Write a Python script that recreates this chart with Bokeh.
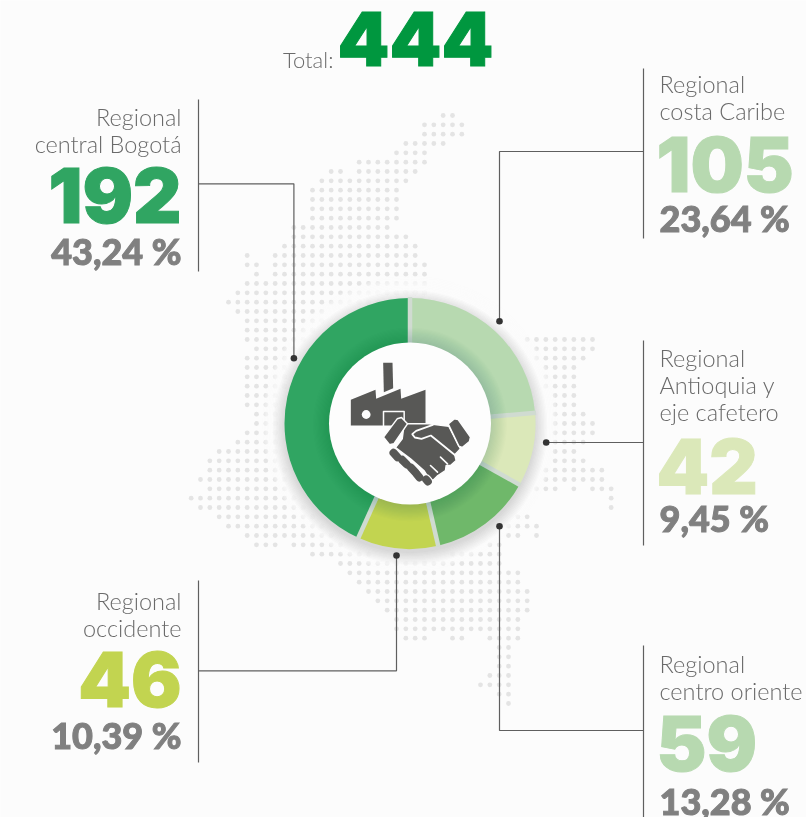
import math
from bokeh.embed import file_html
from bokeh.resources import INLINE
from bokeh.plotting import figure
from bokeh.models import Range1d
from bokeh.core.properties import value

W, H = 806, 817
BG = "#fcfcfc"
LIGHT = "Lato Light"
HEAVY = "Inter Black"
SEMI = "Lato Black"

# ---- data ----
regions = ["Regional costa Caribe", "Regional Antioquia y eje cafetero", "Regional centro oriente",
           "Regional occidente", "Regional central Bogotá"]
counts = [105, 42, 59, 46, 192]
percents = ["23,64 %", "9,45 %", "13,28 %", "10,39 %", "43,24 %"]
slice_colors = ["#b7d9b0", "#dbe8b9", "#6fb86a", "#c2d450", "#30a562"]
number_colors = ["#b7d9b0", "#dbe8b9", "#b7d9b0", "#c2d450", "#30a562"]
total = 444

# dotted silhouette of the country: row -> runs of columns
map_rows = {
    0: [(27, 28)], 1: [(25, 29)], 2: [(25, 29)], 3: [(23, 27)], 4: [(22, 25)], 5: [(18, 25)],
    6: [(15, 16), (18, 24)], 7: [(14, 23)], 8: [(13, 22)], 9: [(13, 22)], 10: [(13, 22)], 11: [(13, 22)],
    12: [(11, 21)], 13: [(11, 23)], 14: [(10, 24)], 15: [(6, 6), (9, 24)], 16: [(6, 7), (9, 25)],
    17: [(7, 7), (9, 25)], 18: [(6, 25)], 19: [(5, 25)], 20: [(4, 25)], 21: [(5, 14)], 22: [(6, 14)],
    23: [(6, 13)], 24: [(6, 12), (36, 43)], 25: [(7, 11), (37, 43)], 26: [(6, 11), (37, 42)],
    27: [(6, 10), (38, 41)], 28: [(6, 10), (38, 41)], 29: [(6, 10), (38, 41)], 30: [(6, 9), (39, 41)],
    31: [(6, 9), (39, 41)], 32: [(7, 9), (39, 42)], 33: [(7, 9), (39, 43)], 34: [(6, 9), (39, 43)],
    35: [(5, 9), (39, 42)], 36: [(3, 9), (39, 41)], 37: [(2, 9), (39, 42)], 38: [(2, 10), (38, 44)],
    39: [(1, 10), (38, 44)], 40: [(2, 10), (37, 39), (41, 41), (43, 45)], 41: [(0, 11), (45, 45)],
    42: [(1, 12), (45, 45)], 43: [(3, 13), (35, 36)], 44: [(4, 14), (34, 37)], 45: [(6, 15), (34, 35), (37, 37)],
    46: [(7, 9), (11, 16), (32, 33)], 47: [(13, 19), (28, 33)], 48: [(16, 33)], 49: [(17, 35)], 50: [(18, 35)],
    51: [(19, 36)], 52: [(20, 36)], 53: [(21, 36)], 54: [(22, 35)], 55: [(22, 35)],
    56: [(23, 25), (28, 29), (32, 35)], 57: [(33, 34)], 58: [(33, 34)], 59: [(33, 34)], 60: [(32, 34)],
    61: [(31, 34)], 62: [(33, 34)], 63: [(34, 34)],
}

def Y(py):
    return H - py

p = figure(width=W, height=H, x_range=Range1d(0, W), y_range=Range1d(0, H),
           output_backend="svg", toolbar_location=None, min_border=0,
           background_fill_color=BG, border_fill_color=BG, outline_line_color=None)
p.axis.visible = False
p.grid.visible = False
p.styles = {"position": "fixed", "left": "0", "top": "0"}

# map dots
dx, dy = [], []
for r, runs in map_rows.items():
    for a, b in runs:
        for c in range(a, b + 1):
            dx.append(190.67 + c * 9.3333)
            dy.append(Y(115 + r * 9.3333))
p.circle(dx, dy, radius=2.4, fill_color="#e4e4e4", line_color=None)

CX, CY = 409.5, 423.0
R_OUT, R_IN = 125.5, 81.0

# white halo hiding the dots near the ring
for i in range(15):
    p.circle([CX], [Y(CY)], radius=R_OUT + 22 - i * 1.5, fill_color=BG, fill_alpha=0.25, line_color=None)
# soft drop shadow
for i in range(12):
    p.circle([CX], [Y(CY + 4)], radius=R_OUT + 12 - i * 1.1, fill_color="#35553a", fill_alpha=0.016, line_color=None)

# ring
p.circle([CX], [Y(CY)], radius=R_OUT, fill_color="#d5dfd6", line_color=None)
start = math.pi / 2
starts, ends = [], []
for v in counts:
    a = v / sum(counts) * 2 * math.pi
    starts.append(start)
    ends.append(start - a)
    start -= a
p.annular_wedge(x=[CX] * 5, y=[Y(CY)] * 5, inner_radius=R_IN - 2, outer_radius=R_OUT,
                start_angle=starts, end_angle=ends, direction="clock",
                fill_color=slice_colors, line_color=None)
p.segment(x0=[CX + (R_IN - 2) * math.cos(a) for a in starts], y0=[Y(CY) + (R_IN - 2) * math.sin(a) for a in starts],
          x1=[CX + (R_OUT + 1) * math.cos(a) for a in starts], y1=[Y(CY) + (R_OUT + 1) * math.sin(a) for a in starts],
          line_color="#d0dbd1", line_width=4.5)
# shadow the white disc casts on the ring
for i in range(14):
    p.circle([CX], [Y(CY + 1)], radius=R_IN + 16 - i * 1.2, fill_color="#24552c", fill_alpha=0.012, line_color=None)
p.circle([CX], [Y(CY)], radius=R_IN, fill_color="#fdfdfd", line_color=None)

# ---- icon (drawn in a 3x local frame) ----
ICON = "#585856"
WHITE = "#fdfdfd"
def ix(v): return 345 + v / 3
def iy(v): return Y(355 + v / 3)
def poly(pts, **kw):
    p.patch([ix(a) for a, b in pts], [iy(b) for a, b in pts], fill_color=kw.get("c", ICON), line_color=kw.get("lc"),
            line_width=kw.get("lw", 1), line_join="round")
def stroke(pts, c=WHITE, w=1.6):
    p.line([ix(a) for a, b in pts], [iy(b) for a, b in pts], line_color=c, line_width=w, line_cap="round")
poly([(113, 22), (141, 22), (143, 98), (115, 110)])
poly([(16, 133), (90, 103), (92, 130), (165, 100), (167, 130), (240, 103), (240, 205), (115, 205), (115, 210), (16, 210)])
p.circle([ix(62)], [iy(177)], radius=4.4, fill_color=WHITE, line_color=None)
poly([(114, 168), (176, 168), (176, 212), (114, 212)], c=ICON, lc=WHITE, lw=1.5)
# hand body
poly([(176, 205), (250, 205), (310, 212), (345, 280), (328, 298), (332, 315), (315, 330), (302, 330), (300, 345),
      (275, 362), (262, 375), (250, 368), (235, 345), (195, 310), (150, 276), (170, 250)], lc=WHITE, lw=1.5)
# cuffs
poly([(114, 245), (155, 190), (168, 186), (186, 205), (145, 265), (132, 268)], lc=WHITE, lw=1.5)
poly([(308, 205), (326, 190), (338, 192), (375, 245), (372, 258), (350, 276), (340, 272)], lc=WHITE, lw=1.5)
# thumb and finger slits
stroke([(262, 208), (212, 226), (200, 236), (208, 246), (228, 250), (256, 240), (330, 300)], w=1.8)
stroke([(285, 305), (306, 325)])
stroke([(255, 330), (276, 350)])
# finger blobs
bx0 = [ix(v) for v in (144, 170, 196, 214, 242)]
by0 = [iy(v) for v in (292, 313, 336, 356, 372)]
bx1 = [ix(v) for v in (156, 184, 210, 222, 247)]
by1 = [iy(v) for v in (305, 327, 351, 366, 378)]
p.segment(x0=bx0, y0=by0, x1=bx1, y1=by1, line_color=WHITE, line_width=10.5, line_cap="round")
p.segment(x0=bx0, y0=by0, x1=bx1, y1=by1, line_color=ICON, line_width=8, line_cap="round")

# ---- leader lines ----
LINE = "#5f5f5f"
leaders = [
    ([198, 198], [99, 271]), ([198, 293.4, 293.4], [183.3, 183.3, 357.7]),
    ([643, 643], [68, 238]), ([643, 499, 499], [151, 151, 320.7]),
    ([643, 643], [340, 545]), ([643, 545.7], [442, 442]),
    ([198, 198], [580, 762]), ([198, 396, 396], [670.3, 670.3, 555]),
    ([643, 643], [645, 817]), ([643, 499, 499], [730, 730, 525.7]),
]
for xs, ys in leaders:
    p.line(xs, [Y(v) for v in ys], line_color=LINE, line_width=1.2)
p.circle([293.4, 499, 545.7, 396, 499], [Y(v) for v in (357.7, 320.7, 442, 555, 525.7)], radius=3.3,
         fill_color="#333333", line_color=None)

# ---- texts ----
def txt(x, y, s, font, size, color, align="left", outline=None):
    kw = {"text_outline_color": outline} if outline else {}
    p.text([x], [Y(y - 0.39 * size)], text=[s], text_font=value(font), text_font_size=f"{size}px", text_color=color,
           text_align=align, text_baseline="alphabetic", **kw)

GREY = "#6a6a6a"
PCT = "#808080"
# label lines, number baseline, percent baseline per region
layout = [
    (659, "left", [("Regional", 93), ("costa Caribe", 120)], 193, 232),
    (659, "left", [("Regional", 367), ("Antioquia y", 394), ("eje cafetero", 421)], 495, 532),
    (659, "left", [("Regional", 673), ("centro oriente", 700)], 772, 815),
    (181, "right", [("Regional", 610), ("occidente", 637)], 708, 749),
    (181, "right", [("Regional", 126), ("central Bogotá", 153)], 224.5, 265),
]
for i, (x, al, lines, ny, py) in enumerate(layout):
    for s, ly in lines:
        txt(x, ly, s, LIGHT, 23.5, GREY, al)
    nx = x - 3 if al == "left" else x
    txt(nx, ny, str(counts[i]), HEAVY, 75, number_colors[i], al, outline=number_colors[i])
    txt(x, py, percents[i], SEMI, 36, PCT, al, outline=PCT)

txt(282.5, 68, "Total:", LIGHT, 22, GREY)
txt(337, 67, str(total), HEAVY, 74, "#00973f", outline="#00973f")

open("out.html", "w").write(file_html(p, INLINE))
